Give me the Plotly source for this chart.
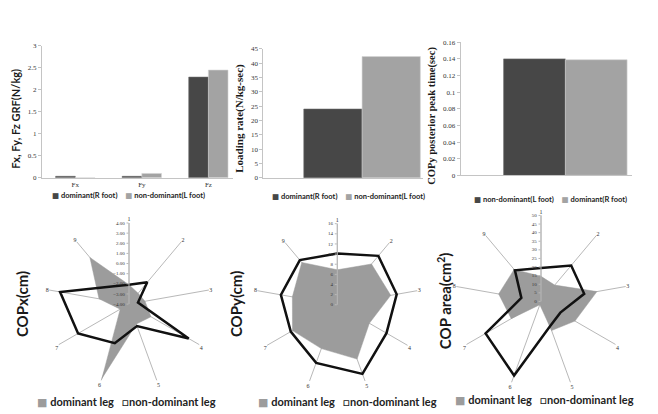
import plotly.graph_objects as go

# ---------------- data ----------------
grf_categories = ["Fx", "Fy", "Fz"]
grf_dominant = [0.035, 0.035, 2.29]
grf_nondominant = [0.005, 0.10, 2.45]

loading_category = ["Loading rate"]
loading_dominant = [24.0]
loading_nondominant = [42.3]

peak_category = ["COPy peak"]
peak_nondominant = [0.140]
peak_dominant = [0.139]

radar_axes = ["1", "2", "3", "4", "5", "6", "7", "8", "9"]
copx_dominant = [-2.1, -2.6, -2.4, -1.5, -1.9, 3.8, -3.0, -1.0, 2.0]
copx_nondominant = [-2.1, -1.2, -3.1, 2.8, -1.7, 0.1, 1.8, 2.9, -1.7]
copy_dominant = [6.9, 10.5, 10.7, 7.3, 11.4, 9.2, 10.2, 9.0, 10.9]
copy_nondominant = [10.1, 12.6, 11.9, 11.2, 14.5, 12.2, 10.6, 11.3, 11.5]
area_dominant = [14.6, 12.4, 33.0, 22.8, 18.0, 2.0, 20.0, 25.0, 24.3]
area_nondominant = [19.5, 27.3, 25.5, 13.0, 15.3, 45.8, 37.2, 11.6, 23.6]

# ---------------- styles ----------------
W, H = 658, 414
DARK = "#474747"
LIGHT = "#a3a3a3"
GRAY_FILL = "#9c9c9c"
SERIF = "Liberation Serif, DejaVu Serif, serif"
SANS = "Lato, Open Sans, DejaVu Sans, sans-serif"
AXC = "#c4c4c4"


def px(x):
    return x / W


def py(y):
    return 1 - y / H


fig = go.Figure()

# ---------------- bar charts ----------------
bar_sets = [
    ("x", "y", grf_categories, [("dominant(R foot)", grf_dominant, DARK),
                                ("non-dominant(L foot)", grf_nondominant, LIGHT)]),
    ("x2", "y2", loading_category, [("dominant(R foot)", loading_dominant, DARK),
                                    ("non-dominant(L foot)", loading_nondominant, LIGHT)]),
    ("x3", "y3", peak_category, [("non-dominant(L foot)", peak_nondominant, DARK),
                                 ("dominant(R foot)", peak_dominant, LIGHT)]),
]
for xa, ya, cats, series in bar_sets:
    for name, vals, col in series:
        edge = "#6a6a6a" if col == DARK else "#d4d4d4"
        fig.add_trace(go.Bar(x=cats, y=vals, name=name, xaxis=xa, yaxis=ya,
                             marker=dict(color=col, line=dict(color=edge, width=0.6)),
                             showlegend=False))

# ---------------- radar charts ----------------
radars = [
    ("polar", copx_dominant, copx_nondominant),
    ("polar2", copy_dominant, copy_nondominant),
    ("polar3", area_dominant, area_nondominant),
]
for sub, dom, nondom in radars:
    fig.add_trace(go.Scatterpolar(r=dom + dom[:1], theta=radar_axes + radar_axes[:1],
                                  fill="toself", fillcolor=GRAY_FILL, mode="lines",
                                  line=dict(color=GRAY_FILL, width=0.5),
                                  name="dominant leg", subplot=sub, showlegend=False))
    fig.add_trace(go.Scatterpolar(r=nondom + nondom[:1], theta=radar_axes + radar_axes[:1],
                                  mode="lines", line=dict(color="#111111", width=2.5),
                                  name="non-dominant leg", subplot=sub, showlegend=False))


def yax(dom, rng, dtick):
    return dict(domain=dom, range=rng, dtick=dtick, showgrid=False, zeroline=False,
                showline=True, linecolor=AXC, linewidth=1, ticks="outside", ticklen=3,
                tickcolor=AXC, tickfont=dict(family=SERIF, size=7, color="#333"),
                fixedrange=True)


def xax(dom, rng, anchor, show_labels=True):
    return dict(domain=dom, range=rng, anchor=anchor, showgrid=False, zeroline=False,
                showline=True, linecolor=AXC, linewidth=1, ticks="",
                showticklabels=show_labels,
                tickfont=dict(family=SERIF, size=7, color="#333"))


def polar_layout(cx, cy, r, rng, dtick, fmt):
    return dict(
        domain=dict(x=[px(cx - r), px(cx + r)], y=[py(cy + r), py(cy - r)]),
        bgcolor="rgba(0,0,0,0)",
        angularaxis=dict(type="category", categoryarray=radar_axes, direction="clockwise",
                         rotation=90, showline=False, showgrid=True, gridcolor="#b8b8b8",
                         gridwidth=1, ticks="", tickfont=dict(family=SERIF, size=6, color="#333")),
        radialaxis=dict(range=rng, dtick=dtick, tickformat=fmt, angle=90, tickangle=90,
                        showgrid=False, showline=True, linecolor="#b8b8b8", ticks="outside",
                        ticklen=2, tickcolor="#b8b8b8", side="counterclockwise",
                        tickfont=dict(family=SERIF, size=5, color="#333")),
    )


fig.update_layout(
    width=W, height=H, margin=dict(l=0, r=0, t=0, b=0),
    paper_bgcolor="white", plot_bgcolor="white", showlegend=False,
    barmode="group", bargap=0.41, bargroupgap=0,
    xaxis=xax([px(42), px(233)], [-0.5, 2.37], "y"),
    yaxis=yax([py(177.3), py(42.7)], [0, 3], 0.5),
    xaxis2=xax([px(263.3), px(423.3)], [-0.5, 0.31], "y2", False),
    yaxis2=dict(yax([py(177.3), py(45.7)], [0, 45], 5), anchor="x2"),
    xaxis3=xax([px(460.7), px(631.7)], [-0.5, 0.317], "y3", False),
    yaxis3=dict(yax([py(174.7), py(39)], [0, 0.16], 0.02), anchor="x3"),
    polar=polar_layout(129, 306, 82.7, [-4, 4], 1, ".2f"),
    polar2=polar_layout(337.3, 306.7, 82.7, [0, 16], 2, "d"),
    polar3=polar_layout(541, 303.3, 87.7, [0, 50], 5, "d"),
)

# axis titles
titles = [
    ("Fx, Fy, Fz GRF(N/kg)", 16, 117, SANS, 11),
    ("Loading rate(N/kg-sec)", 240, 117, SERIF, 11),
    ("COPy posterior peak time(sec)", 432, 114, SERIF, 10.5),
    ("COPx(cm)", 22, 306, SANS, 15),
    ("COPy(cm)", 236, 306, SANS, 15),
    ("COP area(cm<sup>2</sup>)", 444, 303, SANS, 15),
]
for text, x, y, fam, size in titles:
    fig.add_annotation(text="<b>%s</b>" % text, x=px(x), y=py(y), xref="paper", yref="paper",
                       showarrow=False, textangle=-90, xanchor="center", yanchor="middle",
                       font=dict(family=fam, size=size, color="#1a1a1a"))

# legends (as text keys)
def bar_key(first, first_col, second, second_col):
    return ('<span style="color:%s">■</span> <b>%s</b>&nbsp;&nbsp;&nbsp;&nbsp;'
            '<span style="color:%s">■</span> <b>%s</b>' % (first_col, first, second_col, second))


bar_keys = [
    (bar_key("dominant(R foot)", DARK, "non-dominant(L foot)", LIGHT), 128, 195),
    (bar_key("dominant(R foot)", DARK, "non-dominant(L foot)", LIGHT), 349, 196),
    (bar_key("non-dominant(L foot)", DARK, "dominant(R foot)", LIGHT), 550, 199),
]
for text, x, y in bar_keys:
    fig.add_annotation(text=text, x=px(x), y=py(y), xref="paper", yref="paper",
                       showarrow=False, xanchor="center", yanchor="middle",
                       font=dict(family=SANS, size=7.5, color="#222"))

radar_key = ('<span style="color:%s">■</span> <b>dominant leg</b>&nbsp;&nbsp;&nbsp;'
             '<b>□</b><b>non-dominant leg</b>' % GRAY_FILL)
for x, y in [(126, 405), (347, 405), (544, 403)]:
    fig.add_annotation(text=radar_key, x=px(x), y=py(y), xref="paper", yref="paper",
                       showarrow=False, xanchor="center", yanchor="middle",
                       font=dict(family=SANS, size=11, color="#222"))

fig.write_html("out.html")
